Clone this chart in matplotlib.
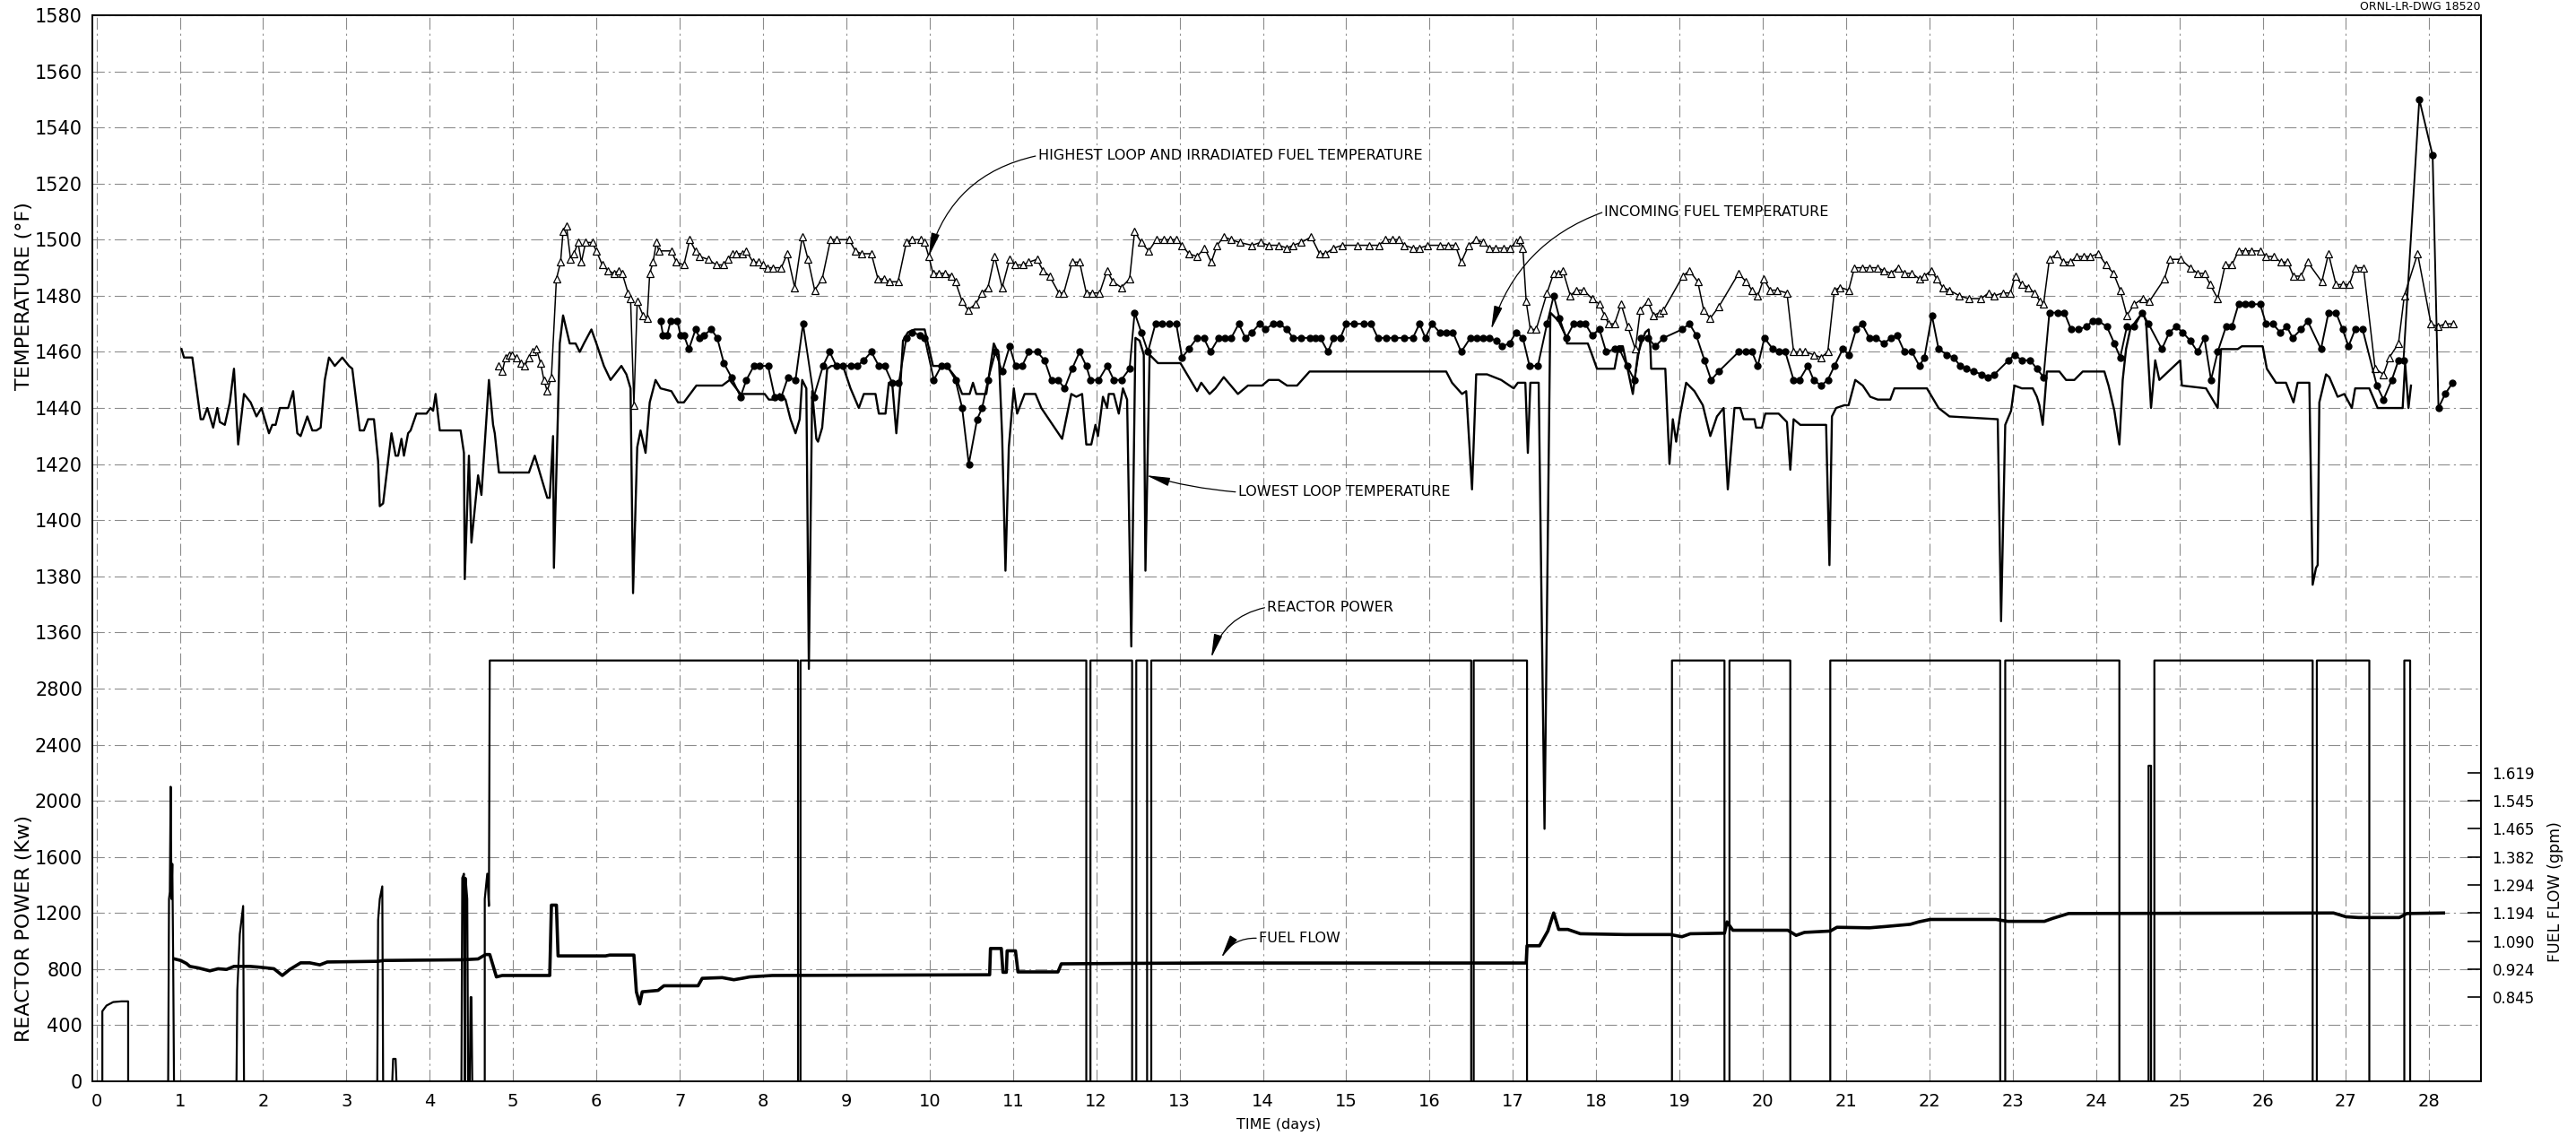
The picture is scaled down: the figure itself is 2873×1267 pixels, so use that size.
import numpy as np
import matplotlib.pyplot as plt

# ---------------- data ----------------
# lowest loop temperature, (day, degF)
lowest_loop = [
    (1.02, 1461), (1.05, 1458), (1.15, 1458), (1.25, 1436), (1.28, 1436), (1.33, 1440),
    (1.40, 1433), (1.45, 1440), (1.48, 1435), (1.54, 1434), (1.60, 1442), (1.65, 1454),
    (1.70, 1427), (1.77, 1445), (1.85, 1442), (1.92, 1437), (1.98, 1440), (2.07, 1431),
    (2.11, 1434), (2.15, 1434), (2.20, 1440), (2.30, 1440), (2.36, 1446), (2.41, 1431),
    (2.45, 1430), (2.53, 1437), (2.59, 1432), (2.64, 1432), (2.69, 1433), (2.74, 1450),
    (2.79, 1458), (2.86, 1455), (2.95, 1458), (3.03, 1455), (3.07, 1454), (3.16, 1432),
    (3.21, 1432), (3.26, 1436), (3.33, 1436), (3.38, 1421), (3.40, 1405), (3.44, 1406),
    (3.54, 1431), (3.59, 1423), (3.62, 1423), (3.66, 1429), (3.69, 1423), (3.74, 1431),
    (3.77, 1432), (3.84, 1438), (3.96, 1438), (4.01, 1440), (4.04, 1439), (4.07, 1445),
    (4.12, 1432), (4.37, 1432), (4.41, 1424), (4.42, 1379), (4.47, 1423), (4.50, 1392),
    (4.58, 1416), (4.62, 1409), (4.71, 1450), (4.76, 1434), (4.78, 1431), (4.83, 1417),
    (5.19, 1417), (5.26, 1423), (5.41, 1408), (5.44, 1408), (5.48, 1430), (5.49, 1383),
    (5.56, 1463), (5.60, 1473), (5.68, 1463), (5.75, 1463), (5.80, 1460), (5.85, 1463),
    (5.94, 1468), (6.00, 1463), (6.09, 1455), (6.17, 1450), (6.30, 1455), (6.36, 1452),
    (6.41, 1447), (6.44, 1374), (6.49, 1426), (6.53, 1432), (6.59, 1424), (6.64, 1442),
    (6.71, 1450), (6.77, 1447), (6.90, 1446), (6.98, 1442), (7.05, 1442), (7.20, 1448),
    (7.51, 1448), (7.60, 1450), (7.73, 1445), (7.85, 1445), (8.02, 1445), (8.07, 1443),
    (8.12, 1443), (8.20, 1445), (8.27, 1443), (8.33, 1436), (8.39, 1431), (8.44, 1436),
    (8.47, 1450), (8.52, 1447), (8.55, 1347), (8.59, 1446), (8.64, 1429), (8.66, 1428),
    (8.71, 1433), (8.77, 1454), (8.82, 1455), (8.96, 1455), (9.05, 1447), (9.15, 1440),
    (9.21, 1445), (9.35, 1445), (9.39, 1438), (9.47, 1438), (9.51, 1449), (9.55, 1449),
    (9.60, 1431), (9.65, 1449), (9.68, 1464), (9.74, 1467), (9.82, 1468), (9.94, 1468),
    (10.04, 1455), (10.14, 1455), (10.23, 1454), (10.31, 1451), (10.39, 1445), (10.48, 1445),
    (10.52, 1449), (10.56, 1445), (10.68, 1445), (10.77, 1463), (10.83, 1459), (10.87, 1430),
    (10.91, 1382), (10.95, 1426), (11.01, 1447), (11.05, 1438), (11.14, 1445), (11.27, 1445),
    (11.34, 1440), (11.59, 1429), (11.70, 1445), (11.76, 1444), (11.83, 1445), (11.88, 1427),
    (11.94, 1427), (11.99, 1434), (12.02, 1430), (12.08, 1444), (12.13, 1440), (12.15, 1445),
    (12.21, 1445), (12.27, 1438), (12.32, 1447), (12.37, 1443), (12.42, 1355), (12.47, 1465),
    (12.52, 1464), (12.57, 1459), (12.59, 1382), (12.64, 1459), (12.74, 1456), (13.01, 1456),
    (13.21, 1446), (13.26, 1449), (13.36, 1445), (13.43, 1447), (13.53, 1451), (13.70, 1445),
    (13.82, 1448), (13.99, 1448), (14.07, 1450), (14.19, 1450), (14.29, 1448), (14.41, 1448),
    (14.56, 1453), (16.20, 1453), (16.27, 1449), (16.39, 1445), (16.44, 1446), (16.51, 1411),
    (16.56, 1452), (16.69, 1452), (16.86, 1450), (17.01, 1447), (17.06, 1449), (17.15, 1449),
    (17.18, 1424), (17.21, 1449), (17.31, 1449), (17.38, 1290), (17.45, 1474), (17.55, 1471),
    (17.63, 1466), (17.65, 1463), (17.90, 1463), (17.95, 1459), (18.01, 1454), (18.10, 1454),
    (18.22, 1454), (18.27, 1462), (18.32, 1462), (18.37, 1455), (18.44, 1445), (18.50, 1459),
    (18.54, 1463), (18.59, 1467), (18.63, 1468), (18.65, 1462), (18.66, 1454), (18.83, 1454),
    (18.88, 1420), (18.92, 1436), (18.96, 1428), (19.01, 1438), (19.08, 1449), (19.18, 1446),
    (19.28, 1441), (19.37, 1430), (19.45, 1437), (19.53, 1440), (19.58, 1411), (19.66, 1440),
    (19.73, 1440), (19.77, 1436), (19.90, 1436), (19.92, 1433), (19.99, 1433), (20.03, 1438),
    (20.19, 1438), (20.29, 1435), (20.33, 1418), (20.37, 1436), (20.41, 1435), (20.45, 1434),
    (20.76, 1434), (20.80, 1384), (20.83, 1437), (20.88, 1440), (20.98, 1441), (21.03, 1441),
    (21.11, 1450), (21.20, 1448), (21.29, 1444), (21.38, 1443), (21.53, 1443), (21.58, 1447),
    (21.97, 1447), (22.11, 1440), (22.24, 1437), (22.82, 1436), (22.86, 1364), (22.91, 1434),
    (22.98, 1439), (23.02, 1448), (23.11, 1447), (23.24, 1447), (23.29, 1444), (23.32, 1441),
    (23.36, 1434), (23.41, 1453), (23.56, 1453), (23.64, 1450), (23.74, 1450), (23.84, 1453),
    (24.10, 1453), (24.15, 1448), (24.22, 1439), (24.28, 1427), (24.32, 1450), (24.36, 1461),
    (24.41, 1468), (24.48, 1471), (24.56, 1474), (24.60, 1471), (24.66, 1440), (24.71, 1457),
    (24.76, 1450), (25.01, 1457), (25.03, 1448), (25.32, 1447), (25.46, 1440), (25.50, 1461),
    (25.70, 1461), (25.75, 1462), (26.00, 1462), (26.05, 1454), (26.16, 1449), (26.28, 1449),
    (26.37, 1442), (26.42, 1449), (26.56, 1449), (26.60, 1377), (26.64, 1383), (26.66, 1384),
    (26.68, 1442), (26.76, 1452), (26.80, 1451), (26.90, 1444), (26.98, 1445), (27.07, 1440),
    (27.11, 1447), (27.28, 1447), (27.38, 1440), (27.68, 1440), (27.71, 1456), (27.75, 1440),
    (27.78, 1448),
]

# highest loop and irradiated fuel temperature, (day, degF)
highest_loop = [
    (4.83, 1455), (4.87, 1453), (4.91, 1458), (4.95, 1459), (4.99, 1459), (5.04, 1458),
    (5.09, 1456), (5.14, 1455), (5.19, 1458), (5.23, 1460), (5.28, 1461), (5.33, 1456),
    (5.37, 1450), (5.41, 1446), (5.46, 1451), (5.52, 1486), (5.57, 1492), (5.60, 1503),
    (5.64, 1505), (5.69, 1493), (5.73, 1495), (5.78, 1499), (5.82, 1492), (5.87, 1499),
    (5.95, 1499), (6.00, 1496), (6.07, 1491), (6.14, 1489), (6.21, 1488), (6.27, 1489),
    (6.31, 1488), (6.38, 1481), (6.41, 1479), (6.45, 1441), (6.49, 1478), (6.56, 1473),
    (6.61, 1472), (6.64, 1488), (6.68, 1492), (6.72, 1499), (6.75, 1496), (6.90, 1496),
    (6.96, 1492), (7.05, 1491), (7.12, 1500), (7.19, 1496), (7.24, 1494), (7.34, 1493),
    (7.44, 1491), (7.53, 1491), (7.58, 1493), (7.63, 1495), (7.68, 1495), (7.75, 1495),
    (7.80, 1496), (7.88, 1492), (7.95, 1492), (8.00, 1491), (8.05, 1490), (8.12, 1490),
    (8.22, 1490), (8.29, 1495), (8.38, 1483), (8.47, 1501), (8.54, 1493), (8.62, 1482),
    (8.71, 1486), (8.81, 1500), (8.88, 1500), (9.03, 1500), (9.11, 1496), (9.18, 1495),
    (9.30, 1495), (9.38, 1486), (9.45, 1486), (9.52, 1485), (9.62, 1485), (9.72, 1499),
    (9.79, 1500), (9.89, 1500), (9.94, 1499), (9.99, 1494), (10.04, 1488), (10.11, 1488),
    (10.19, 1488), (10.26, 1487), (10.31, 1485), (10.39, 1478), (10.46, 1475), (10.55, 1477),
    (10.63, 1481), (10.70, 1483), (10.78, 1494), (10.87, 1483), (10.96, 1493), (11.02, 1491),
    (11.12, 1491), (11.19, 1492), (11.29, 1493), (11.36, 1489), (11.44, 1487), (11.55, 1481),
    (11.61, 1481), (11.71, 1492), (11.80, 1492), (11.88, 1481), (11.95, 1481), (12.04, 1481),
    (12.13, 1489), (12.20, 1485), (12.30, 1483), (12.40, 1486), (12.46, 1503), (12.54, 1499),
    (12.63, 1496), (12.72, 1500), (12.81, 1500), (12.89, 1500), (12.96, 1500), (13.03, 1498),
    (13.11, 1495), (13.21, 1494), (13.30, 1497), (13.38, 1492), (13.45, 1498), (13.53, 1501),
    (13.62, 1500), (13.72, 1499), (13.87, 1498), (13.97, 1499), (14.07, 1498), (14.19, 1498),
    (14.29, 1497), (14.36, 1498), (14.46, 1499), (14.58, 1501), (14.68, 1495), (14.75, 1495),
    (14.85, 1497), (14.95, 1498), (15.14, 1498), (15.28, 1498), (15.39, 1498), (15.47, 1500),
    (15.56, 1500), (15.63, 1500), (15.70, 1498), (15.80, 1497), (15.88, 1497), (15.98, 1498),
    (16.12, 1498), (16.22, 1498), (16.31, 1498), (16.38, 1492), (16.47, 1498), (16.56, 1500),
    (16.64, 1499), (16.72, 1497), (16.79, 1497), (16.89, 1497), (16.96, 1497), (17.04, 1499),
    (17.08, 1500), (17.12, 1497), (17.16, 1478), (17.21, 1468), (17.28, 1468), (17.41, 1481),
    (17.49, 1488), (17.55, 1488), (17.60, 1489), (17.69, 1480), (17.76, 1482), (17.85, 1482),
    (17.95, 1479), (18.04, 1477), (18.10, 1473), (18.15, 1470), (18.22, 1470), (18.30, 1477),
    (18.38, 1469), (18.47, 1461), (18.53, 1475), (18.62, 1478), (18.69, 1473), (18.76, 1474),
    (18.81, 1475), (19.04, 1487), (19.12, 1489), (19.22, 1485), (19.29, 1475), (19.37, 1472),
    (19.47, 1476), (19.71, 1488), (19.80, 1485), (19.87, 1482), (19.94, 1480), (20.01, 1486),
    (20.09, 1482), (20.17, 1482), (20.29, 1481), (20.37, 1460), (20.44, 1460), (20.51, 1460),
    (20.61, 1459), (20.70, 1458), (20.78, 1460), (20.86, 1482), (20.93, 1483), (21.03, 1482),
    (21.10, 1490), (21.19, 1490), (21.28, 1490), (21.38, 1490), (21.45, 1489), (21.54, 1488),
    (21.62, 1490), (21.70, 1488), (21.79, 1488), (21.88, 1486), (21.94, 1487), (22.02, 1489),
    (22.09, 1486), (22.16, 1483), (22.24, 1482), (22.36, 1480), (22.47, 1479), (22.62, 1479),
    (22.71, 1481), (22.78, 1480), (22.88, 1481), (22.97, 1481), (23.03, 1487), (23.11, 1484),
    (23.19, 1483), (23.26, 1481), (23.33, 1478), (23.37, 1477), (23.44, 1493), (23.53, 1495),
    (23.61, 1492), (23.69, 1492), (23.77, 1494), (23.85, 1494), (23.93, 1494), (24.03, 1495),
    (24.12, 1491), (24.21, 1488), (24.29, 1482), (24.37, 1473), (24.46, 1477), (24.56, 1479),
    (24.64, 1478), (24.82, 1486), (24.89, 1493), (25.02, 1493), (25.13, 1490), (25.22, 1488),
    (25.30, 1488), (25.37, 1484), (25.46, 1479), (25.55, 1491), (25.63, 1491), (25.71, 1496),
    (25.79, 1496), (25.87, 1496), (25.97, 1496), (26.04, 1494), (26.13, 1494), (26.22, 1492),
    (26.30, 1492), (26.37, 1487), (26.46, 1487), (26.54, 1492), (26.71, 1485), (26.79, 1495),
    (26.88, 1484), (26.96, 1484), (27.04, 1484), (27.11, 1490), (27.21, 1490), (27.35, 1454),
    (27.45, 1452), (27.52, 1458), (27.63, 1463), (27.70, 1480), (27.86, 1495), (28.02, 1470),
    (28.10, 1469), (28.19, 1470), (28.29, 1470),
]

# incoming fuel temperature, (day, degF)
incoming_fuel = [
    (6.77, 1471), (6.80, 1466), (6.85, 1466), (6.89, 1471), (6.97, 1471), (7.01, 1466),
    (7.05, 1466), (7.11, 1461), (7.19, 1468), (7.24, 1465), (7.29, 1466), (7.38, 1468),
    (7.45, 1465), (7.53, 1456), (7.62, 1451), (7.73, 1444), (7.80, 1450), (7.89, 1455),
    (7.96, 1455), (8.06, 1455), (8.14, 1444), (8.22, 1444), (8.30, 1451), (8.39, 1450),
    (8.48, 1470), (8.61, 1444), (8.72, 1455), (8.80, 1460), (8.88, 1455), (8.96, 1455),
    (9.06, 1455), (9.13, 1455), (9.21, 1457), (9.30, 1460), (9.39, 1455), (9.46, 1455),
    (9.55, 1449), (9.63, 1449), (9.72, 1465), (9.79, 1467), (9.88, 1466), (9.94, 1465),
    (10.05, 1450), (10.14, 1455), (10.21, 1455), (10.31, 1450), (10.39, 1440), (10.47, 1420),
    (10.57, 1436), (10.63, 1440), (10.70, 1450), (10.79, 1460), (10.87, 1453), (10.96, 1462),
    (11.03, 1455), (11.11, 1455), (11.19, 1460), (11.29, 1460), (11.38, 1457), (11.46, 1450),
    (11.54, 1450), (11.62, 1447), (11.71, 1454), (11.80, 1460), (11.88, 1455), (11.93, 1450),
    (12.03, 1450), (12.13, 1455), (12.21, 1450), (12.30, 1450), (12.40, 1454), (12.46, 1474),
    (12.54, 1467), (12.62, 1460), (12.71, 1470), (12.79, 1470), (12.88, 1470), (12.96, 1470),
    (13.03, 1458), (13.11, 1461), (13.21, 1465), (13.29, 1465), (13.37, 1460), (13.47, 1465),
    (13.54, 1465), (13.62, 1465), (13.71, 1470), (13.79, 1465), (13.87, 1467), (13.96, 1470),
    (14.03, 1468), (14.12, 1470), (14.20, 1470), (14.29, 1468), (14.36, 1465), (14.46, 1465),
    (14.56, 1465), (14.63, 1465), (14.69, 1465), (14.78, 1460), (14.85, 1465), (14.93, 1465),
    (15.00, 1470), (15.09, 1470), (15.21, 1470), (15.30, 1470), (15.38, 1465), (15.48, 1465),
    (15.58, 1465), (15.70, 1465), (15.80, 1465), (15.88, 1470), (15.95, 1465), (16.03, 1470),
    (16.12, 1467), (16.20, 1467), (16.28, 1467), (16.38, 1460), (16.49, 1465), (16.57, 1465),
    (16.64, 1465), (16.72, 1465), (16.80, 1464), (16.87, 1462), (16.96, 1463), (17.04, 1467),
    (17.12, 1465), (17.20, 1455), (17.30, 1455), (17.41, 1470), (17.49, 1480), (17.56, 1472),
    (17.64, 1465), (17.73, 1470), (17.80, 1470), (17.87, 1470), (17.95, 1466), (18.04, 1468),
    (18.12, 1460), (18.22, 1461), (18.28, 1461), (18.37, 1455), (18.46, 1450), (18.54, 1465),
    (18.62, 1465), (18.71, 1462), (18.81, 1465), (19.03, 1468), (19.12, 1470), (19.20, 1466),
    (19.30, 1457), (19.38, 1450), (19.47, 1453), (19.71, 1460), (19.80, 1460), (19.87, 1460),
    (19.94, 1455), (20.02, 1465), (20.12, 1461), (20.19, 1460), (20.27, 1460), (20.37, 1450),
    (20.44, 1450), (20.54, 1455), (20.61, 1450), (20.70, 1448), (20.78, 1450), (20.86, 1455),
    (20.96, 1461), (21.03, 1459), (21.12, 1468), (21.19, 1470), (21.28, 1465), (21.36, 1465),
    (21.45, 1463), (21.54, 1465), (21.61, 1466), (21.70, 1460), (21.79, 1460), (21.88, 1455),
    (21.94, 1458), (22.03, 1473), (22.11, 1461), (22.21, 1459), (22.29, 1458), (22.37, 1455),
    (22.44, 1454), (22.53, 1453), (22.63, 1452), (22.70, 1451), (22.78, 1452), (22.95, 1457),
    (23.02, 1459), (23.11, 1457), (23.21, 1457), (23.29, 1454), (23.37, 1451), (23.44, 1474),
    (23.54, 1474), (23.62, 1474), (23.70, 1468), (23.79, 1468), (23.88, 1469), (23.96, 1471),
    (24.03, 1471), (24.13, 1469), (24.22, 1463), (24.29, 1458), (24.37, 1469), (24.46, 1469),
    (24.55, 1474), (24.63, 1470), (24.79, 1461), (24.88, 1467), (24.96, 1469), (25.04, 1467),
    (25.13, 1464), (25.22, 1460), (25.30, 1465), (25.38, 1450), (25.46, 1460), (25.56, 1469),
    (25.63, 1469), (25.71, 1477), (25.79, 1477), (25.87, 1477), (25.97, 1477), (26.04, 1470),
    (26.12, 1470), (26.21, 1467), (26.29, 1469), (26.36, 1465), (26.46, 1468), (26.54, 1471),
    (26.70, 1461), (26.79, 1474), (26.88, 1474), (26.96, 1468), (27.03, 1462), (27.11, 1468),
    (27.20, 1468), (27.37, 1448), (27.45, 1443), (27.55, 1450), (27.63, 1457), (27.69, 1457),
    (27.88, 1550), (28.04, 1530), (28.11, 1440), (28.19, 1445), (28.28, 1449),
]

# reactor power, (day, kW)
reactor_power = [
    (0.00, 0), (0.07, 0), (0.07, 500), (0.12, 540), (0.20, 565), (0.30, 570), (0.38, 570),
    (0.38, 0), (0.86, 0), (0.87, 1300), (0.88, 1350), (0.89, 2100), (0.90, 1300),
    (0.91, 1550), (0.92, 870), (0.93, 0), (1.68, 0), (1.69, 650), (1.72, 1050), (1.76, 1250),
    (1.77, 0), (3.37, 0), (3.38, 1150), (3.40, 1300), (3.43, 1390), (3.44, 0), (3.55, 0),
    (3.56, 160), (3.59, 160), (3.60, 0), (4.38, 0), (4.39, 1450), (4.41, 1480), (4.42, 0),
    (4.43, 1450), (4.45, 1300), (4.46, 0), (4.48, 0), (4.49, 600), (4.50, 600), (4.51, 0),
    (4.66, 0), (4.66, 1300), (4.69, 1480), (4.71, 1250), (4.72, 3000),
    (8.42, 3000), (8.42, 0), (8.45, 0), (8.45, 3000),
    (11.88, 3000), (11.88, 0), (11.93, 0), (11.93, 3000),
    (12.43, 3000), (12.43, 0), (12.48, 0), (12.48, 3000),
    (12.61, 3000), (12.61, 0), (12.66, 0), (12.66, 3000),
    (16.50, 3000), (16.50, 0), (16.53, 0), (16.53, 3000),
    (17.17, 3000), (17.17, 0), (18.91, 0), (18.91, 3000),
    (19.54, 3000), (19.54, 0), (19.60, 0), (19.60, 3000),
    (20.33, 3000), (20.33, 0), (20.81, 0), (20.81, 3000),
    (22.85, 3000), (22.85, 0), (22.91, 0), (22.91, 3000),
    (24.28, 3000), (24.28, 0), (24.63, 0), (24.63, 2250), (24.66, 2250), (24.66, 0),
    (24.70, 0), (24.70, 3000),
    (26.60, 3000), (26.60, 0), (26.65, 0), (26.65, 3000),
    (27.28, 3000), (27.28, 0), (27.70, 0), (27.70, 3000), (27.77, 3000), (27.77, 0),
    (28.62, 0),
]

# fuel flow, (day, gpm)
fuel_flow = [
    (0.93, 0.985), (1.01, 0.975), (1.08, 0.957), (1.12, 0.940), (1.22, 0.931), (1.36, 0.919),
    (1.46, 0.926), (1.56, 0.923), (1.65, 0.940), (1.84, 0.940), (1.94, 0.936), (2.04, 0.931),
    (2.13, 0.926), (2.23, 0.906), (2.32, 0.923), (2.45, 0.961), (2.56, 0.961), (2.68, 0.949),
    (2.77, 0.966), (3.38, 0.970), (3.45, 0.975), (4.39, 0.979), (4.58, 0.984), (4.67, 1.010),
    (4.72, 1.010), (4.80, 0.902), (4.87, 0.906), (5.44, 0.906), (5.46, 1.222), (5.52, 1.222),
    (5.54, 1.002), (6.11, 1.002), (6.16, 1.007), (6.45, 1.007), (6.48, 0.860), (6.52, 0.826),
    (6.55, 0.860), (6.74, 0.864), (6.81, 0.877), (7.22, 0.877), (7.27, 0.898), (7.51, 0.900),
    (7.65, 0.894), (7.75, 0.898), (7.84, 0.902), (8.11, 0.906), (10.72, 0.908), (10.73, 1.046),
    (10.86, 1.046), (10.88, 0.915), (10.92, 0.915), (10.93, 1.032), (11.03, 1.032),
    (11.06, 0.916), (11.54, 0.916), (11.58, 0.955), (12.45, 0.958), (13.41, 0.960),
    (17.16, 0.960), (17.17, 1.062), (17.32, 1.062), (17.42, 1.127), (17.49, 1.194),
    (17.55, 1.133), (17.66, 1.133), (17.81, 1.117), (18.35, 1.114), (18.89, 1.114),
    (19.03, 1.106), (19.13, 1.117), (19.54, 1.119), (19.57, 1.161), (19.64, 1.130),
    (20.30, 1.130), (20.40, 1.111), (20.50, 1.122), (20.81, 1.127), (20.89, 1.141),
    (21.28, 1.139), (21.48, 1.144), (21.77, 1.152), (21.87, 1.161), (22.01, 1.170),
    (22.80, 1.170), (22.94, 1.163), (23.38, 1.163), (23.48, 1.174), (23.67, 1.192),
    (26.85, 1.194), (27.00, 1.180), (27.15, 1.177), (27.64, 1.177), (27.73, 1.192),
    (28.17, 1.194),
]

day_ticks = np.arange(0, 29)
temp_ticks = np.arange(1360, 1581, 20)
power_ticks = np.arange(0, 2801, 400)
flow_ticks = [0.845, 0.924, 1.090, 1.194, 1.294, 1.382, 1.465, 1.545, 1.619]

# ---------------- layout ----------------
W, H = 2873, 1267
fig = plt.figure(figsize=(W / 100, H / 100), dpi=100)
left, right, top, bottom = 103, 2767, 17, 1206
rect = [left / W, 1 - bottom / H, (right - left) / W, (bottom - top) / H]

grid_kw = dict(color='0.55', lw=0.8, ls=(0, (12, 4, 2, 4)))

# power axis carries the whole graph-paper grid (0..7600 in 400 steps)
axp = fig.add_axes(rect)
axp.set_xlim(-0.05, 28.62)
axp.set_ylim(0, 7600)
axp.set_xticks(day_ticks)
axp.set_yticks(power_ticks)
axp.set_yticks(np.arange(3200, 7601, 400), minor=True)
axp.grid(True, which='both', **grid_kw)
axp.tick_params(which='both', length=0)
axp.tick_params(axis='y', labelsize=15, pad=8)
axp.tick_params(axis='x', labelsize=14, pad=9)
for s in axp.spines.values():
    s.set_linewidth(1.4)

# temperature axis, same box; 1200..1580 so 1340 sits on the 3200 kW line
axt = fig.add_axes(rect, sharex=axp)
axt.patch.set_visible(False)
for s in axt.spines.values():
    s.set_visible(False)
axt.set_ylim(1200, 1580)
axt.set_yticks(temp_ticks)
axt.tick_params(axis='x', labelbottom=False, length=0)
axt.tick_params(axis='y', length=0, labelsize=15, pad=8)

# fuel flow: the gpm ticks sit on the power grid every 200 kW from 600 up
flow_pos = np.arange(600, 2201, 200)
ft = np.array(flow_ticks)


def flow_fwd(g):
    g = np.asarray(g, dtype=float)
    lo = (flow_pos[1] - flow_pos[0]) / (ft[1] - ft[0])
    hi = (flow_pos[-1] - flow_pos[-2]) / (ft[-1] - ft[-2])
    out = np.interp(g, ft, flow_pos)
    out = np.where(g < ft[0], flow_pos[0] + (g - ft[0]) * lo, out)
    out = np.where(g > ft[-1], flow_pos[-1] + (g - ft[-1]) * hi, out)
    return out


def flow_inv(p):
    p = np.asarray(p, dtype=float)
    lo = (ft[1] - ft[0]) / (flow_pos[1] - flow_pos[0])
    hi = (ft[-1] - ft[-2]) / (flow_pos[-1] - flow_pos[-2])
    out = np.interp(p, flow_pos, ft)
    out = np.where(p < flow_pos[0], ft[0] + (p - flow_pos[0]) * lo, out)
    out = np.where(p > flow_pos[-1], ft[-1] + (p - flow_pos[-1]) * hi, out)
    return out


axf = axp.twinx()
axf.set_yscale('function', functions=(flow_fwd, flow_inv))
axf.set_ylim(float(flow_inv(0)), float(flow_inv(7600)))
axf.set_yticks(flow_ticks)
axf.set_yticklabels(['%.3f' % v for v in flow_ticks])
axf.yaxis.set_minor_locator(plt.NullLocator())
axf.tick_params(axis='y', direction='in', length=11, width=1.2, labelsize=12, pad=9)
for s in axf.spines.values():
    s.set_visible(False)

# ---------------- curves ----------------
lo = np.array(lowest_loop)
hi = np.array(highest_loop)
inc = np.array(incoming_fuel)
pw = np.array(reactor_power)
ff = np.array(fuel_flow)

axt.plot(lo[:, 0], lo[:, 1], color='black', lw=1.7)
axt.plot(hi[:, 0], hi[:, 1], color='black', lw=1.1, marker='^', ms=5.5,
         mfc='white', mec='black', mew=0.9)
axt.plot(inc[:, 0], inc[:, 1], color='black', lw=1.4, marker='o', ms=5)
axp.plot(pw[:, 0], pw[:, 1], color='black', lw=1.6)
axf.plot(ff[:, 0], ff[:, 1], color='black', lw=2.6)

# ---------------- labels ----------------
fs = 11.5
arrow = dict(arrowstyle='-|>,head_length=1.4,head_width=0.25', color='black', lw=0.9,
             shrinkA=0, shrinkB=0)


def t2p(t):
    # temperature to the power-grid position
    return 3200 + (t - 1360) * 20


axp.annotate('HIGHEST LOOP AND IRRADIATED FUEL TEMPERATURE', xy=(9.99, t2p(1494)),
             xytext=(11.3, t2p(1530)), fontsize=fs, va='center', ha='left',
             arrowprops=dict(arrow, connectionstyle='arc3,rad=0.3', relpos=(0, 0.5)))
axp.annotate('INCOMING FUEL TEMPERATURE', xy=(16.74, t2p(1468)),
             xytext=(18.1, t2p(1510)), fontsize=fs, va='center', ha='left',
             arrowprops=dict(arrow, connectionstyle='arc3,rad=0.25', relpos=(0, 0.5)))
axp.annotate('LOWEST LOOP TEMPERATURE', xy=(12.6, t2p(1416)),
             xytext=(13.7, t2p(1410)), fontsize=fs, va='center', ha='left',
             arrowprops=dict(arrow, connectionstyle='arc3,rad=-0.05', relpos=(0, 0.5)))
axp.annotate('REACTOR POWER', xy=(13.38, 3020),
             xytext=(14.05, 3380), fontsize=fs, va='center', ha='left',
             arrowprops=dict(arrow, connectionstyle='arc3,rad=0.3', relpos=(0, 0.5)))
axp.annotate('FUEL FLOW', xy=(13.5, 880),
             xytext=(13.95, 1020), fontsize=fs, va='center', ha='left',
             arrowprops=dict(arrow, connectionstyle='arc3,rad=0.3', relpos=(0, 0.5)))

fig.text(27 / W, 1 - 330 / H, 'TEMPERATURE (°F)', rotation=90, ha='center', va='center',
         fontsize=16)
fig.text(27 / W, 1 - 1036 / H, 'REACTOR POWER (Kw)', rotation=90, ha='center', va='center',
         fontsize=16)
fig.text(1426 / W, 1 - 1254 / H, 'TIME (days)', ha='center', va='center', fontsize=11.5)
fig.text(2850 / W, 1 - 995 / H, 'FUEL FLOW (gpm)', rotation=90, ha='center', va='center',
         fontsize=12.5)
fig.text(2767 / W, 1 - 1 / H, 'ORNL-LR-DWG 18520', ha='right', va='top', fontsize=9)

fig.savefig('out.png', dpi=100)
